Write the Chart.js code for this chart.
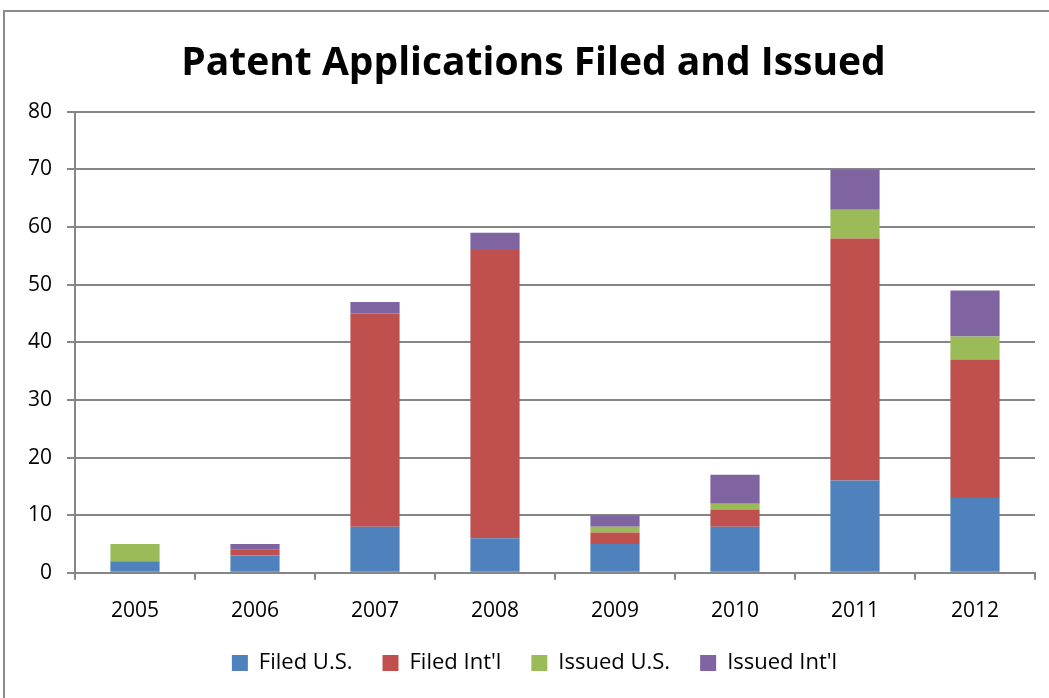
<!DOCTYPE html>
<html>
<head>
<meta charset="utf-8">
<script src="https://cdn.jsdelivr.net/npm/chart.js@4/dist/chart.umd.min.js"></script>
<style>
  html, body { margin: 0; padding: 0; background: #fff; }
  #wrap { width: 1049px; height: 698px; position: relative; }
</style>
</head>
<body>
<div id="wrap"><canvas id="patentChart" width="1049" height="698"></canvas></div>
<script>
const years = ["2005", "2006", "2007", "2008", "2009", "2010", "2011", "2012"];
const filedUS = [2, 3, 8, 6, 5, 8, 16, 13];
const filedIntl = [0, 1, 37, 50, 2, 3, 42, 24];
const issuedUS = [3, 0, 0, 0, 1, 1, 5, 4];
const issuedIntl = [0, 1, 2, 3, 2, 5, 7, 8];
const yTicks = [0, 10, 20, 30, 40, 50, 60, 70, 80];

const fontFamily = "'Open Sans', sans-serif";
const gridColor = "#868686";

// outer frame like the spreadsheet chart border
const framePlugin = {
  id: "frame",
  beforeDraw(chart) {
    const ctx = chart.ctx;
    ctx.save();
    ctx.fillStyle = "#fff";
    ctx.fillRect(0, 0, chart.width, chart.height);
    ctx.strokeStyle = "#8a8a8a";
    ctx.lineWidth = 2;
    ctx.strokeRect(4, 11, chart.width + 10, chart.height + 10);
    ctx.restore();
  }
};

// title and legend sit a little right of centre in the original
const nudgePlugin = {
  id: "nudge",
  afterLayout(chart) {
    if (chart.titleBlock) { chart.titleBlock.left += 11; chart.titleBlock.right += 11; }
    if (chart.legend) { chart.legend.left += 12; chart.legend.right += 12; }
  }
};

new Chart(document.querySelector("#patentChart"), {
  type: "bar",
  data: {
    labels: years,
    datasets: [
      { label: "Filed U.S.", data: filedUS, backgroundColor: "#4F81BD" },
      { label: "Filed Int'l", data: filedIntl, backgroundColor: "#C0504D" },
      { label: "Issued U.S.", data: issuedUS, backgroundColor: "#9BBB59" },
      { label: "Issued Int'l", data: issuedIntl, backgroundColor: "#8064A2" },
    ],
  },
  options: {
    responsive: false,
    animation: false,
    layout: { padding: { left: 10, right: 14, top: 40, bottom: 14 } },
    datasets: {
      bar: { categoryPercentage: 1, barPercentage: 0.41, borderWidth: 0 }
    },
    scales: {
      x: {
        stacked: true,
        afterFit(scale) { scale.height -= 21; },
        grid: { offset: true, drawOnChartArea: false, color: gridColor, lineWidth: 2, tickLength: 7 },
        border: { color: gridColor, width: 2 },
        ticks: { color: "#000", font: { family: fontFamily, size: 21 }, padding: 19 },
      },
      y: {
        stacked: true,
        min: 0,
        max: 80,
        afterBuildTicks(scale) { scale.ticks = yTicks.map(v => ({ value: v })); },
        afterFit(scale) { scale.width = 65; },
        grid: { color: gridColor, lineWidth: 2, tickLength: 8 },
        border: { color: gridColor, width: 2 },
        ticks: { color: "#000", font: { family: fontFamily, size: 21 }, padding: 15 },
      },
    },
    plugins: {
      title: {
        display: true,
        text: "Patent Applications Filed and Issued",
        color: "#000",
        font: { family: fontFamily, size: 39, weight: "bold" },
        padding: { top: 0, bottom: 25 },
      },
      legend: {
        position: "bottom",
        labels: {
          color: "#000",
          font: { family: fontFamily, size: 22 },
          boxWidth: 16,
          boxHeight: 16,
          padding: 30,
        },
      },
      tooltip: { enabled: false },
    },
  },
  plugins: [framePlugin, nudgePlugin],
});
</script>
</body>
</html>
